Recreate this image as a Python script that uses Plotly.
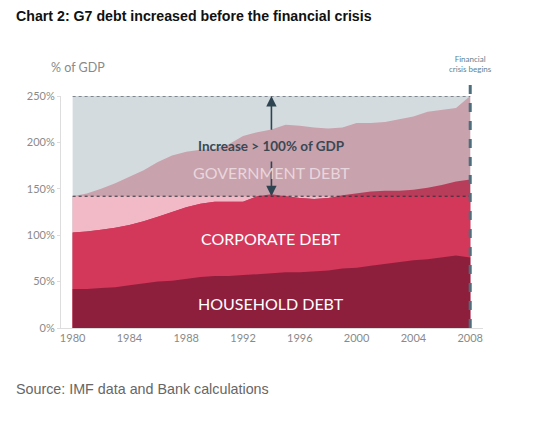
import numpy as np
import plotly.graph_objects as go

years = list(range(1980, 2009))
household = [42, 42, 43, 44, 46, 48, 50, 51, 53, 55, 56, 56, 57, 58, 59, 60, 60, 61, 62, 64, 65, 67, 69, 71, 73, 74, 76, 78, 76]
corporate_top = [103, 104, 106, 108, 111, 115, 120, 125, 130, 134, 136, 136, 136, 142, 144, 142, 140, 139, 140, 143, 145, 147, 148, 148, 149, 151, 154, 158, 160]
total = [142, 145, 150, 156, 163, 170, 179, 186, 190, 192, 193, 198, 207, 211, 214, 219, 218, 216, 215, 216, 221, 221, 222, 225, 228, 233, 235, 237, 250]
x_ticks = [1980, 1984, 1988, 1992, 1996, 2000, 2004, 2008]
y_ticks = [0, 50, 100, 150, 200, 250]
y_labels = ["0%", "50%", "100%", "150%", "200%", "250%"]

hh = np.array(household, dtype=float)
corp = np.array(corporate_top, dtype=float) - hh
gov = np.array(total, dtype=float) - np.array(corporate_top, dtype=float)
cum_corp = hh + corp
cum_tot = cum_corp + gov
base = cum_tot[0]
top = cum_tot[-1]

fig = go.Figure()

def area(y, color):
    fig.add_trace(go.Scatter(x=years, y=y, mode="lines", fill="tozeroy",
                             line=dict(width=0, color=color), fillcolor=color,
                             hoverinfo="skip", showlegend=False))

area([top] * len(years), "#d4dbde")
area(cum_tot, "#c8a2ad")
area(np.minimum(cum_tot, base), "#f1bac6")
area(cum_corp, "#b83d5b")
area(np.minimum(cum_corp, base), "#d3385b")
area(hh, "#8e1f3c")

for lvl in (base, top):
    fig.add_trace(go.Scatter(x=[years[0], years[-1]], y=[lvl, lvl], mode="lines",
                             line=dict(color="#2b303a", width=1, dash="dot"),
                             hoverinfo="skip", showlegend=False))

fig.add_shape(type="line", xref="x", yref="paper", x0=years[-1], x1=years[-1],
              y0=0, y1=1.06, line=dict(color="#4d6e7b", width=3, dash="dash"))

mid = 1994
arrow_col = "#2f4451"
fig.add_annotation(x=mid, y=top, ax=mid, ay=212, axref="x", ayref="y", xref="x", yref="y",
                   text="", showarrow=True, arrowhead=2, arrowsize=1.3, arrowwidth=1.6, arrowcolor=arrow_col)
fig.add_annotation(x=mid, y=base, ax=mid, ay=181, axref="x", ayref="y", xref="x", yref="y",
                   text="", showarrow=True, arrowhead=2, arrowsize=1.3, arrowwidth=1.6, arrowcolor=arrow_col)
fig.add_annotation(x=mid, y=196.5, xref="x", yref="y", text="<b>Increase &gt; 100% of GDP</b>",
                   showarrow=False, font=dict(family="Lato", size=13.5, color="#3a4853"))
fig.add_annotation(x=mid, y=168, xref="x", yref="y", text="GOVERNMENT DEBT",
                   showarrow=False, font=dict(family="Lato", size=16, color="#e9d6dc"))
fig.add_annotation(x=mid, y=96, xref="x", yref="y", text="CORPORATE DEBT",
                   showarrow=False, font=dict(family="Lato", size=16, color="#ffffff"))
fig.add_annotation(x=mid, y=26, xref="x", yref="y", text="HOUSEHOLD DEBT",
                   showarrow=False, font=dict(family="Lato", size=16, color="#ffffff"))

fig.add_annotation(x=years[-1], y=1.138, xref="x", yref="paper", text="Financial<br>crisis begins",
                   showarrow=False, font=dict(family="Lato", size=8, color="#5d8390"), align="center",
                   yanchor="middle")

fig.add_annotation(x=-0.028, y=1.125, xref="paper", yref="paper", xanchor="left", yanchor="middle",
                   text="% of GDP", showarrow=False, font=dict(family="Lato", size=12.5, color="#8a8a8a"))
fig.add_annotation(x=-0.111, y=1.345, xref="paper", yref="paper", xanchor="left", yanchor="middle",
                   text="<b>Chart 2: G7 debt increased before the financial crisis</b>", showarrow=False,
                   font=dict(family="Liberation Sans", size=14.2, color="#111111"))
fig.add_annotation(x=-0.111, y=-0.263, xref="paper", yref="paper", xanchor="left", yanchor="middle",
                   text="Source: IMF data and Bank calculations", showarrow=False,
                   font=dict(family="Liberation Sans", size=14.3, color="#666666"))

fig.update_layout(
    width=532, height=413,
    margin=dict(l=53, r=57, t=88, b=93),
    paper_bgcolor="white", plot_bgcolor="white",
    showlegend=False,
    xaxis=dict(range=[1979.18, 2008.9], tickvals=x_ticks, showgrid=False, zeroline=False,
               showline=True, linecolor="#dddddd", linewidth=1, ticks="",
               tickfont=dict(family="Lato", size=11, color="#8a8a8a")),
    yaxis=dict(range=[0, 250], tickvals=y_ticks, ticktext=y_labels, showgrid=False, zeroline=False,
               showline=True, linecolor="#dddddd", linewidth=1, ticks="outside", ticklen=3,
               tickcolor="#dddddd",
               tickfont=dict(family="Lato", size=11, color="#8a8a8a")),
)

fig.write_html("out.html")
